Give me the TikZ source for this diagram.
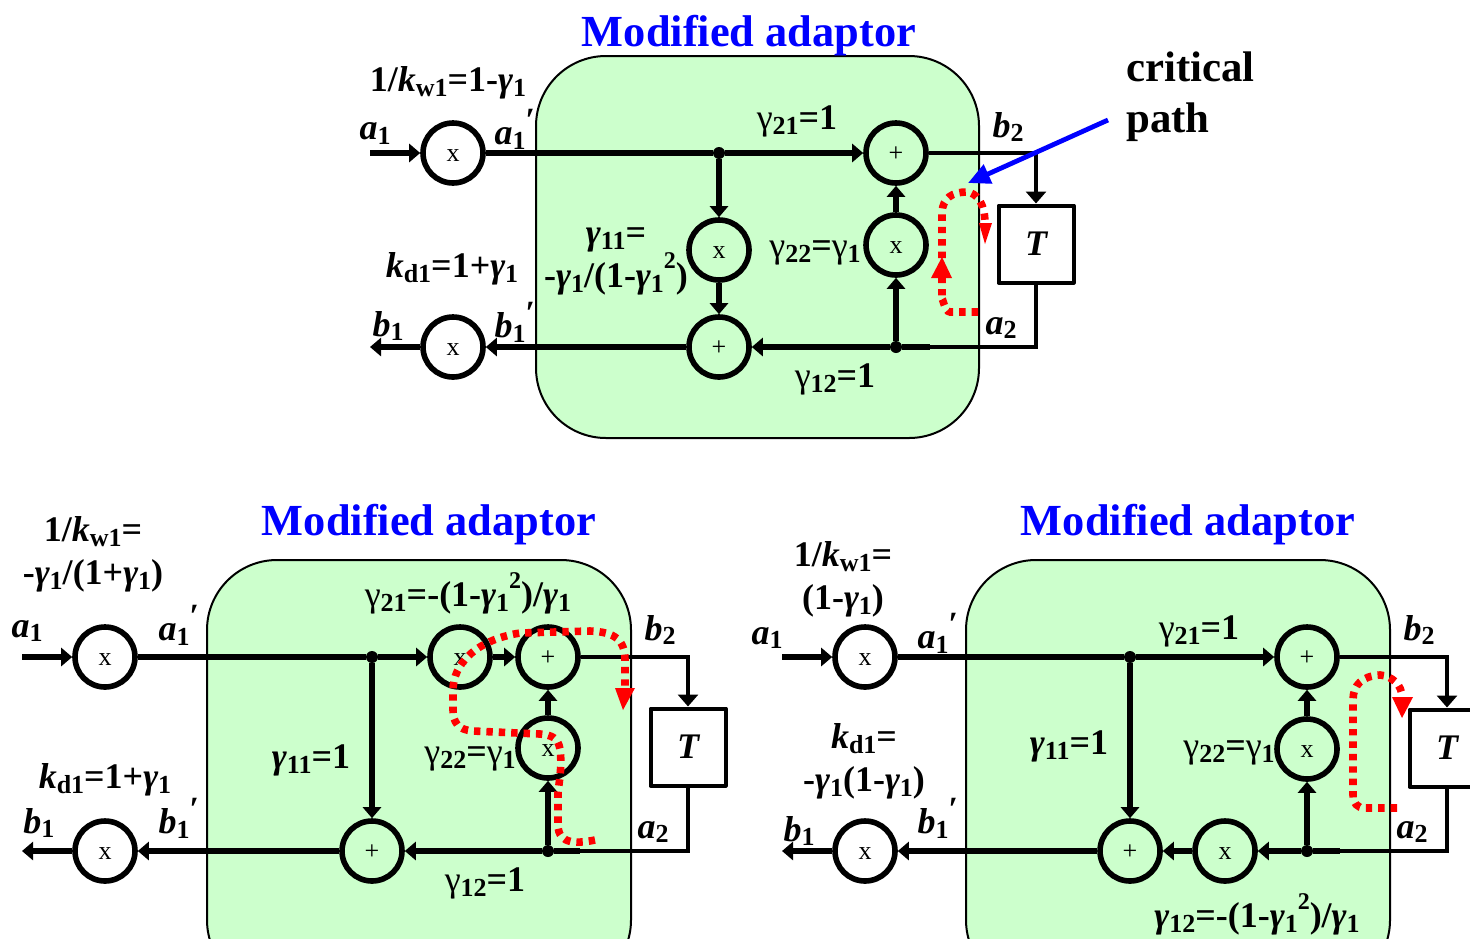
\documentclass[tikz,border=0pt]{standalone}
\usepackage{fontspec}
\setmainfont{Liberation Serif}
\usetikzlibrary{arrows.meta}
\newcommand{\gmi}{\textit{γ}}
\newcommand{\gmu}{{\mdseries γ}}
\newcommand{\lsub}[1]{\raisebox{-0.3ex}{\fontsize{13pt}{13pt}\selectfont #1}}
\newcommand{\lsup}[1]{\raisebox{1.1ex}{\fontsize{12pt}{12pt}\selectfont #1}}
\newcommand{\prm}{\raisebox{0.8ex}{\fontsize{17pt}{17pt}\selectfont\upshape ′}}
\tikzset{
  adaptor/.style={draw=black,line width=1pt,fill=adaptorgreen,rounded corners=35pt},
  op/.style={draw,circle,line width=2.8pt,minimum size=30pt,inner sep=0pt,text height=8.5pt,text depth=0pt,font=\fontsize{13pt}{13pt}\selectfont},
  delaybox/.style={draw,line width=2pt,line join=round,minimum width=37.5pt,minimum height=38.5pt,inner sep=0pt,font=\fontsize{18pt}{18pt}\selectfont\bfseries\itshape},
  jn/.style={circle,fill=black,minimum size=6pt,inner sep=0pt},
  wire/.style={line width=2.8pt,-{Triangle[length=5.5pt,width=9pt]}},
  bar/.style={line width=2.8pt},
  feed/.style={line width=1.9pt},
  feedtip/.style={line width=1.9pt,-{Triangle[length=6pt,width=10pt]}},
  crit/.style={draw=red,line width=3.8pt,dash pattern=on 3.2pt off 3pt},
  crittip/.style={fill=red},
  lab/.style={inner sep=0pt,align=center,xshift=0.5pt,yshift=-1.5pt,font=\fontsize{18pt}{21.5pt}\selectfont\bfseries},
  note/.style={inner sep=0pt,align=left,font=\fontsize{21.4pt}{25.5pt}\selectfont\bfseries},
  ttl/.style={inner sep=0pt,text=blue,yshift=-2pt,font=\fontsize{22.2pt}{24pt}\selectfont\bfseries},
}
\definecolor{adaptorgreen}{HTML}{CCFFCC}
\begin{document}
\begin{tikzpicture}[x=0.5pt,y=-0.5pt]
  \clip (0,0) rectangle (1470,938);
  %% adaptor boxes
  \draw[adaptor] (536,56) rectangle (979,438);
  \draw[adaptor] (207,560) rectangle (631,990);
  \draw[adaptor] (966,560) rectangle (1390,990);

  %% top diagram
  \node[ttl] (titleA) at (749,32) {Modified adaptor};
  \node[op] (wA) at (453,153) {x};
  \node[op] (dA) at (453,347) {x};
  \node[op] (sumTA) at (896,153) {+};
  \node[op] (mulRA) at (896,245) {x};
  \node[op] (mulLA) at (719,250) {x};
  \node[op] (sumBA) at (719,347) {+};
  \node[delaybox] (delayA) at (1036,244) {T};
  \node[jn] (jTA) at (719,153) {};
  \node[jn] (jBA) at (896,347) {};
  \coordinate (inA) at (370,153);
  \coordinate (outA) at (370,347);
  \coordinate (stubA) at (930,347);
  \draw[wire] (inA) -- (wA);
  \draw[bar] (wA) -- (jTA);
  \draw[wire] (jTA) -- (sumTA);
  \draw[wire] (jTA) -- (mulLA);
  \draw[wire] (mulLA) -- (sumBA);
  \draw[wire] (mulRA) -- (sumTA);
  \draw[wire] (jBA) -- (mulRA);
  \draw[wire] (jBA) -- (sumBA);
  \draw[bar] (jBA) -- (stubA);
  \draw[wire] (sumBA) -- (dA);
  \draw[wire] (dA) -- (outA);
  \draw[feedtip] (sumTA) -| (delayA);
  \draw[feed] (delayA) |- (jBA);
  %% critical path, top
  \draw[crit] (978,312) -- (950,312) to[out=180,in=90] (942,300) -- (942,278);
  \fill[crittip] (942,257) -- (952,278) -- (931,278) -- cycle;
  \draw[crit] (942,258) -- (942,212) .. controls (943,198) and (952,192) .. (967,192) .. controls (976,193) and (985,202) .. (985,224);
  \fill[crittip] (985,244) -- (992,223) -- (979,223) -- cycle;
  \node[note,anchor=west] (critA) at (1126,97) {critical\\path};
  \coordinate (pointA) at (1108,120);
  \coordinate (aimA) at (968,183);
  \draw[blue,line width=2.4pt,-{Triangle[length=11pt,width=10pt]}] (pointA) -- (aimA);
  \node[lab] (gwA) at (447,80) {1/\textit{k}\lsub{w1}=1-\gmi\lsub{1}};
  \node[lab] (a1A) at (374,131) {\textit{a}\lsub{1}};
  \node[lab] (a1pA) at (514,126) {\textit{a}\lsub{1}\prm};
  \node[lab] (kdA) at (451,266) {\textit{k}\lsub{d1}=1+\gmi\lsub{1}};
  \node[lab] (b1A) at (387,323) {\textit{b}\lsub{1}};
  \node[lab] (b1pA) at (514,319) {\textit{b}\lsub{1}\prm};
  \node[lab] (g11A) at (615,258) {\gmi\lsub{11}=\\-\gmi\lsub{1}/(1-\gmi\lsub{1}\lsup{2})};
  \node[lab] (g21A) at (796,118) {\gmu\lsub{21}=1};
  \node[lab] (g22A) at (814,250) {\gmu\lsub{22}=\gmu\lsub{1}};
  \node[lab] (g12A) at (834,376) {\gmu\lsub{12}=1};
  \node[lab] (b2A) at (1007,124) {\textit{b}\lsub{2}};
  \node[lab] (a2A) at (1000,325) {\textit{a}\lsub{2}};

  %% bottom left diagram
  \node[ttl] (titleB) at (429,521) {Modified adaptor};
  \node[op] (wB) at (105,657) {x};
  \node[op] (dB) at (105,851) {x};
  \node[op] (mulTB) at (460,657) {x};
  \node[op] (sumTB) at (548,657) {+};
  \node[op] (mulRB) at (548,748) {x};
  \node[op] (sumBB) at (372,851) {+};
  \node[delaybox] (delayB) at (688,747) {T};
  \node[jn] (jTB) at (372,657) {};
  \node[jn] (jBB) at (548,851) {};
  \coordinate (inB) at (22,657);
  \coordinate (outB) at (22,851);
  \coordinate (stubB) at (580,851);
  \draw[wire] (inB) -- (wB);
  \draw[bar] (wB) -- (jTB);
  \draw[wire] (jTB) -- (mulTB);
  \draw[wire] (mulTB) -- (sumTB);
  \draw[wire] (jTB) -- (sumBB);
  \draw[wire] (mulRB) -- (sumTB);
  \draw[wire] (jBB) -- (mulRB);
  \draw[wire] (jBB) -- (sumBB);
  \draw[bar] (jBB) -- (stubB);
  \draw[wire] (sumBB) -- (dB);
  \draw[wire] (dB) -- (outB);
  \draw[feedtip] (sumTB) -| (delayB);
  \draw[feed] (delayB) |- (jBB);
  %% critical path, bottom left
  \draw[crit] (595,840) .. controls (580,843) and (558,846) .. (558,825) -- (558,793) .. controls (560,775) and (562,765) .. (560,749) .. controls (558,738) and (552,735) .. (540,734) -- (473,731) .. controls (458,730) and (453,722) .. (453,710) -- (453,690) .. controls (453,665) and (475,640) .. (520,633) -- (590,631) .. controls (615,632) and (625,640) .. (625,660) -- (625,688);
  \fill[crittip] (623,710) -- (635,688) -- (615,688) -- cycle;
  \node[lab] (gwB) at (92,551) {1/\textit{k}\lsub{w1}=\\-\gmi\lsub{1}/(1+\gmi\lsub{1})};
  \node[lab] (a1B) at (26,628) {\textit{a}\lsub{1}};
  \node[lab] (a1pB) at (178,622) {\textit{a}\lsub{1}\prm};
  \node[lab] (kdB) at (104,777) {\textit{k}\lsub{d1}=1+\gmi\lsub{1}};
  \node[lab] (b1B) at (38,820) {\textit{b}\lsub{1}};
  \node[lab] (b1pB) at (178,815) {\textit{b}\lsub{1}\prm};
  \node[lab] (g11B) at (310,757) {\gmi\lsub{11}=1};
  \node[lab] (g21B) at (467,590) {\gmu\lsub{21}=-(1-\gmi\lsub{1}\lsup{2})/\gmi\lsub{1}};
  \node[lab] (g22B) at (469,756) {\gmu\lsub{22}=\gmu\lsub{1}};
  \node[lab] (g12B) at (484,880) {\gmu\lsub{12}=1};
  \node[lab] (b2B) at (659,627) {\textit{b}\lsub{2}};
  \node[lab] (a2B) at (652,829) {\textit{a}\lsub{2}};

  %% bottom right diagram
  \node[ttl] (titleC) at (1188,521) {Modified adaptor};
  \node[op] (wC) at (865,657) {x};
  \node[op] (dC) at (865,851) {x};
  \node[op] (sumTC) at (1307,657) {+};
  \node[op] (mulRC) at (1307,749) {x};
  \node[op] (mulBC) at (1225,851) {x};
  \node[op] (sumBC) at (1130,851) {+};
  \node[delaybox] (delayC) at (1447,748) {T};
  \node[jn] (jTC) at (1130,657) {};
  \node[jn] (jBC) at (1307,851) {};
  \coordinate (inC) at (782,657);
  \coordinate (outC) at (782,851);
  \coordinate (stubC) at (1340,851);
  \draw[wire] (inC) -- (wC);
  \draw[bar] (wC) -- (jTC);
  \draw[wire] (jTC) -- (sumTC);
  \draw[wire] (jTC) -- (sumBC);
  \draw[wire] (mulRC) -- (sumTC);
  \draw[wire] (jBC) -- (mulRC);
  \draw[wire] (jBC) -- (mulBC);
  \draw[bar] (jBC) -- (stubC);
  \draw[wire] (mulBC) -- (sumBC);
  \draw[wire] (sumBC) -- (dC);
  \draw[wire] (dC) -- (outC);
  \draw[feedtip] (sumTC) -| (delayC);
  \draw[feed] (delayC) |- (jBC);
  %% critical path, bottom right
  \draw[crit] (1397,808) -- (1365,808) .. controls (1357,808) and (1353,803) .. (1353,795) -- (1353,700) .. controls (1353,685) and (1362,676) .. (1380,675) .. controls (1392,676) and (1402,685) .. (1402,697);
  \fill[crittip] (1402,718) -- (1413,697) -- (1392,697) -- cycle;
  \node[lab] (gwC) at (842,576) {1/\textit{k}\lsub{w1}=\\(1-\gmi\lsub{1})};
  \node[lab] (a1C) at (766,635) {\textit{a}\lsub{1}};
  \node[lab] (a1pC) at (937,630) {\textit{a}\lsub{1}\prm};
  \node[lab] (kdC) at (863,758) {\textit{k}\lsub{d1}=\\-\gmi\lsub{1}(1-\gmi\lsub{1})};
  \node[lab] (b1C) at (798,828) {\textit{b}\lsub{1}};
  \node[lab] (b1pC) at (937,815) {\textit{b}\lsub{1}\prm};
  \node[lab] (g11C) at (1068,743) {\gmi\lsub{11}=1};
  \node[lab] (g21C) at (1198,628) {\gmu\lsub{21}=1};
  \node[lab] (g22C) at (1228,750) {\gmu\lsub{22}=\gmu\lsub{1}};
  \node[lab] (g12C) at (1256,911) {\gmi\lsub{12}=-(1-\gmi\lsub{1}\lsup{2})/\gmi\lsub{1}};
  \node[lab] (b2C) at (1418,627) {\textit{b}\lsub{2}};
  \node[lab] (a2C) at (1411,829) {\textit{a}\lsub{2}};
\end{tikzpicture}
\end{document}
